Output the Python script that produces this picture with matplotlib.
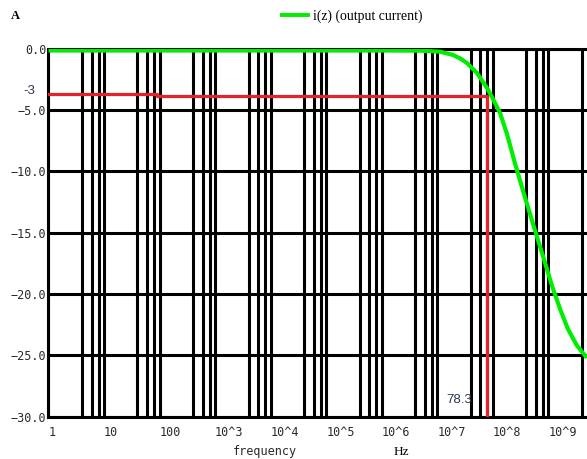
import numpy as np
import matplotlib
matplotlib.use("Agg")
import matplotlib.pyplot as plt
from matplotlib.ticker import FixedLocator, NullFormatter

# Output current magnitude vs frequency
freq = [1, 1e6, 4.9e6, 1.12e7, 1.92e7, 2.56e7, 3.43e7, 5.19e7, 6.3e7, 7.85e7,
        9.66e7, 1.35e8, 1.80e8, 2.51e8, 3.79e8, 5.74e8, 8.0e8, 1.16e9,
        1.62e9, 2.25e9, 3.27e9, 4.95e9]
current = [-0.15, -0.15, -0.16, -0.24, -0.51, -0.78, -1.17, -1.98, -2.55, -3.20,
           -3.94, -5.24, -6.95, -9.35, -12.1, -14.8, -16.9, -19.3,
           -21.2, -22.85, -24.2, -25.2]

# -3 marker trace and cutoff frequency marker
marker_freq = [1, 89, 89, 7.83e7, 7.83e7]
marker_level = [-3.72, -3.72, -3.83, -3.83, -30.0]
cutoff_label = "78.3"
level_label = "-3"

y_ticks = [0, -5, -10, -15, -20, -25, -30]
y_tick_labels = ["0.0", "\u22125.0", "\u221210.0", "\u221215.0", "\u221220.0", "\u221225.0", "\u221230.0"]
x_ticks = [10.0 ** k for k in range(10)]
x_tick_labels = ["1", "10", "100", "10^3", "10^4", "10^5", "10^6", "10^7", "10^8", "10^9"]

fig = plt.figure(figsize=(5.87, 4.59), dpi=100)
ax = fig.add_axes([0.0826, 0.0922, 0.9174, 0.8017])
ax.set_xscale("log")
ax.set_xlim(1, 4.97e9)
ax.set_ylim(-30, 0)

lw_grid = 2.2
ax.set_axisbelow(True)
ax.xaxis.set_major_locator(FixedLocator(x_ticks))
minor = [m * 10.0 ** k for k in range(10) for m in (4, 6, 8)]
ax.xaxis.set_minor_locator(FixedLocator(minor))
ax.xaxis.set_minor_formatter(NullFormatter())
ax.set_xticklabels(x_tick_labels)
ax.set_yticks(y_ticks)
ax.set_yticklabels(y_tick_labels)
ax.grid(True, which="both", axis="x", color="black", linewidth=lw_grid)
ax.grid(True, which="major", axis="y", color="black", linewidth=lw_grid)

mono = "DejaVu Sans Mono"
ax.tick_params(axis="both", which="both", length=0)
ax.tick_params(axis="y", pad=1.5, labelsize=8.5, labelcolor="#2a2a2a")
ax.tick_params(axis="x", pad=7, labelsize=8.5, labelcolor="#2a2a2a")
for lab in ax.get_yticklabels() + ax.get_xticklabels():
    lab.set_fontfamily(mono)
for lab in ax.get_xticklabels():
    lab.set_horizontalalignment("left")

for side in ("left", "bottom", "top"):
    ax.spines[side].set_linewidth(lw_grid)
    ax.spines[side].set_color("black")
ax.spines["right"].set_visible(False)

ax.plot(marker_freq, marker_level, color="#e8202a", linewidth=2.3,
        solid_capstyle="projecting", zorder=3)
ax.plot(freq, current, color="#00ee00", linewidth=3.0, zorder=4,
        solid_capstyle="butt", solid_joinstyle="round")

# marker value labels
ax.text(-0.024, -3.0, level_label, transform=ax.get_yaxis_transform(),
        ha="right", va="top", fontsize=9.5, color="#2a3550",
        family="Liberation Sans")
ax.annotate(cutoff_label, xy=(marker_freq[-1], -30), xytext=(-11, 8),
            textcoords="offset points", ha="right", va="bottom",
            fontsize=9.5, color="#2a3550", family="Liberation Sans")

# axis captions
fig.text(15 / 587, 1 - 16 / 459, "A", ha="center", va="center",
         fontsize=9, family="Liberation Serif", fontweight="bold")
fig.text(265 / 587, 1 - 452 / 459, "frequency", ha="center", va="center",
         fontsize=8.5, family=mono, color="#2a2a2a")
fig.text(401 / 587, 1 - 452 / 459, "Hz", ha="center", va="center",
         fontsize=9.5, family="Liberation Serif")

# legend entry
fig.add_artist(plt.Line2D([282 / 587, 308 / 587], [1 - 15 / 459, 1 - 15 / 459],
                          color="#00ee00", linewidth=2.8,
                          transform=fig.transFigure))
fig.text(313 / 587, 1 - 16 / 459, "i(z) (output current)", ha="left",
         va="center", fontsize=9.9, family="Liberation Serif")

fig.savefig("out.png", dpi=100)
